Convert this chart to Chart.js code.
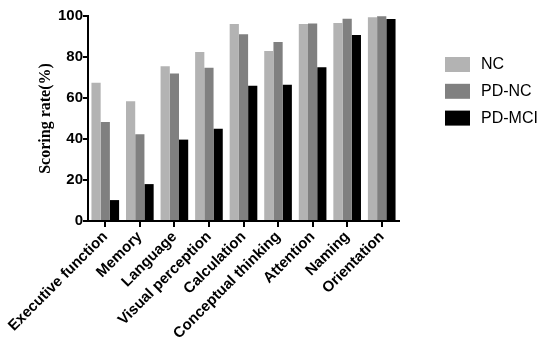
<!DOCTYPE html>
<html>
<head>
<meta charset="utf-8">
<script src="https://cdn.jsdelivr.net/npm/chart.js@4"></script>
<style>
  html, body { margin: 0; padding: 0; background: #fff; }
  #wrap { width: 550px; height: 356px; }
</style>
</head>
<body>
<div id="wrap"><canvas id="scoreChart" width="550" height="356"></canvas></div>
<script>
const domains = ["Executive function", "Memory", "Language", "Visual perception", "Calculation",
  "Conceptual thinking", "Attention", "Naming", "Orientation"];
const ncRates = [67.5, 58.4, 75.5, 82.4, 96.1, 82.9, 96.1, 96.6, 99.4];
const pdNcRates = [48.3, 42.3, 71.9, 74.8, 91.1, 87.3, 96.4, 98.7, 99.9];
const pdMciRates = [10.2, 18.0, 39.7, 45.0, 66.0, 66.5, 75.0, 90.7, 98.5];
const groupNames = ["NC", "PD-NC", "PD-MCI"];
const groupColors = ["#b3b3b3", "#808080", "#000000"];
const yTicks = [0, 20, 40, 60, 80, 100];

const sans = "'Liberation Sans', Arial, sans-serif";

// legend drawn by hand so it sits where the original one is
const sideLegend = {
  id: "sideLegend",
  afterDraw(chart) {
    const ctx = chart.ctx;
    ctx.save();
    ctx.font = "16px " + sans;
    ctx.textBaseline = "middle";
    ctx.textAlign = "left";
    chart.data.datasets.forEach((ds, i) => {
      const y = 57 + i * 26.8;
      ctx.fillStyle = ds.backgroundColor;
      ctx.fillRect(445, y, 25, 15);
      ctx.fillStyle = "#000";
      ctx.fillText(ds.label, 481, y + 8);
    });
    ctx.restore();
  }
};

const seriesValues = [ncRates, pdNcRates, pdMciRates];

new Chart(document.getElementById("scoreChart").getContext("2d"), {
  type: "bar",
  data: {
    labels: domains,
    datasets: groupNames.map((name, index) => ({
      label: name,
      data: seriesValues[index],
      backgroundColor: groupColors[index],
      borderWidth: 0,
      categoryPercentage: 0.8,
      barPercentage: 1.0
    }))
  },
  options: {
    responsive: false,
    animation: false,
    layout: {
      padding: { left: 36, top: 16, right: 151, bottom: 0 }
    },
    plugins: {
      legend: { display: false },
      tooltip: { enabled: false }
    },
    scales: {
      x: {
        grid: {
          offset: false,
          drawOnChartArea: false,
          drawTicks: true,
          tickLength: 6,
          color: "#000",
          lineWidth: 2
        },
        border: { display: true, color: "#000", width: 2 },
        ticks: {
          color: "#000",
          font: { family: sans, size: 15, weight: "bold" },
          maxRotation: 45,
          minRotation: 45,
          padding: 1,
          autoSkip: false
        },
        afterFit(scale) { scale.height = 135; }
      },
      y: {
        min: 0,
        max: 100,
        afterBuildTicks(scale) { scale.ticks = yTicks.map(v => ({ value: v })); },
        grid: {
          drawOnChartArea: false,
          drawTicks: true,
          tickLength: 5,
          color: "#000",
          lineWidth: 2
        },
        border: { display: true, color: "#000", width: 2 },
        ticks: {
          color: "#000",
          font: { family: sans, size: 15, weight: "bold" },
          padding: 0
        },
        title: {
          display: true,
          text: "Scoring rate(%)",
          color: "#000",
          font: { family: "'Liberation Serif', 'Times New Roman', serif", size: 16, weight: "bold" },
          padding: 0
        },
        afterFit(scale) { scale.width = 52; }
      }
    }
  },
  plugins: [sideLegend]
});
</script>
</body>
</html>
